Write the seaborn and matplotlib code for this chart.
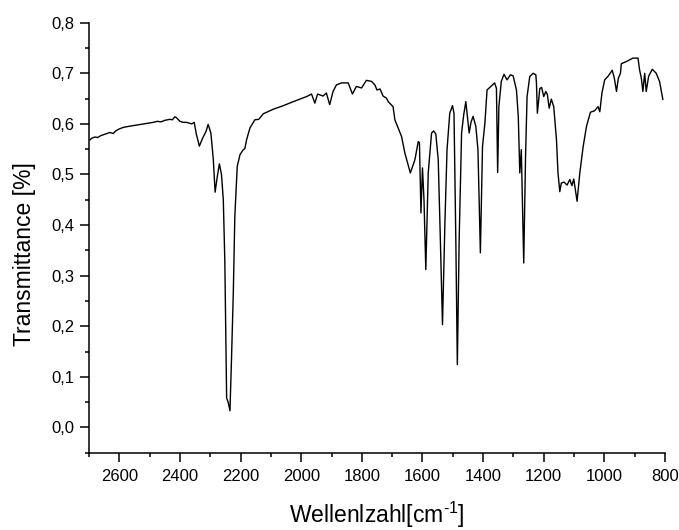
import matplotlib
matplotlib.use("Agg")
import matplotlib.pyplot as plt
from matplotlib.ticker import MultipleLocator, FuncFormatter
import seaborn as sns
import pandas as pd

# IR spectrum: wavenumber (cm^-1) and transmittance
wavenumber = [2698, 2690, 2680, 2672, 2660, 2645, 2631, 2620, 2612, 2600, 2587, 2570,
              2550, 2532, 2510, 2488, 2475, 2462, 2450, 2433, 2425, 2417, 2411, 2400,
              2390, 2378, 2361, 2353, 2346, 2336, 2325, 2314, 2307, 2298, 2290, 2284,
              2277, 2270, 2263, 2257, 2252, 2246, 2241, 2235, 2230, 2224, 2219, 2211,
              2202, 2191, 2186, 2180, 2169, 2153, 2140, 2125, 2092, 2059, 2026, 1982,
              1966, 1955, 1946, 1928, 1917, 1906, 1895, 1884, 1867, 1845, 1831, 1818,
              1801, 1785, 1768, 1757, 1750, 1740, 1730, 1719, 1713, 1697, 1691, 1669,
              1658, 1640, 1625, 1614, 1610, 1605, 1600, 1595, 1589, 1581, 1570, 1563,
              1556, 1548, 1541, 1534, 1526, 1519, 1510, 1501, 1496, 1490, 1485, 1479,
              1471, 1464, 1457, 1452, 1446, 1440, 1433, 1424, 1417, 1409, 1402, 1394,
              1387, 1373, 1362, 1356, 1352, 1348, 1340, 1331, 1321, 1310, 1301, 1290,
              1284, 1279, 1274, 1270, 1266, 1260, 1255, 1246, 1235, 1226, 1224, 1221,
              1213, 1207, 1200, 1193, 1188, 1182, 1175, 1167, 1158, 1153, 1147, 1142,
              1133, 1123, 1114, 1107, 1101, 1090, 1081, 1070, 1059, 1046, 1032, 1021,
              1015, 1008, 999, 988, 974, 967, 960, 954, 947, 944, 928, 906,
              889, 884, 878, 873, 867, 862, 854, 842, 829, 818, 807]

transmittance = [0.568, 0.572, 0.574, 0.573, 0.577, 0.580, 0.583, 0.581, 0.586, 0.590, 0.593, 0.595,
                 0.597, 0.599, 0.601, 0.603, 0.605, 0.604, 0.607, 0.609, 0.608, 0.614, 0.612, 0.605,
                 0.603, 0.603, 0.600, 0.603, 0.580, 0.556, 0.572, 0.585, 0.599, 0.582, 0.530, 0.465,
                 0.495, 0.521, 0.500, 0.450, 0.330, 0.058, 0.050, 0.033, 0.134, 0.266, 0.417, 0.516,
                 0.539, 0.549, 0.551, 0.569, 0.592, 0.608, 0.609, 0.620, 0.629, 0.636, 0.644, 0.654,
                 0.659, 0.641, 0.659, 0.655, 0.661, 0.638, 0.664, 0.677, 0.681, 0.681, 0.659, 0.674,
                 0.671, 0.686, 0.684, 0.677, 0.667, 0.669, 0.655, 0.651, 0.644, 0.634, 0.608, 0.575,
                 0.542, 0.503, 0.529, 0.565, 0.563, 0.424, 0.513, 0.450, 0.312, 0.503, 0.582, 0.586,
                 0.580, 0.529, 0.371, 0.203, 0.404, 0.549, 0.621, 0.636, 0.621, 0.371, 0.124, 0.371,
                 0.582, 0.618, 0.644, 0.615, 0.582, 0.603, 0.615, 0.595, 0.549, 0.345, 0.555, 0.602,
                 0.667, 0.675, 0.681, 0.670, 0.504, 0.634, 0.684, 0.698, 0.687, 0.697, 0.695, 0.667,
                 0.615, 0.503, 0.549, 0.440, 0.325, 0.536, 0.654, 0.694, 0.700, 0.697, 0.680, 0.621,
                 0.670, 0.672, 0.654, 0.664, 0.658, 0.631, 0.649, 0.634, 0.569, 0.503, 0.466, 0.483,
                 0.485, 0.479, 0.490, 0.478, 0.491, 0.447, 0.503, 0.555, 0.595, 0.623, 0.626, 0.634,
                 0.624, 0.661, 0.687, 0.694, 0.706, 0.690, 0.664, 0.690, 0.700, 0.719, 0.723, 0.730,
                 0.730, 0.707, 0.690, 0.664, 0.700, 0.664, 0.694, 0.708, 0.700, 0.684, 0.648]

x_ticks = [2600, 2400, 2200, 2000, 1800, 1600, 1400, 1200, 1000, 800]
y_ticks = [0.0, 0.1, 0.2, 0.3, 0.4, 0.5, 0.6, 0.7, 0.8]

sns.set_theme(style="ticks")
plt.rcParams["font.family"] = ["Liberation Sans", "DejaVu Sans"]
plt.rcParams["mathtext.fontset"] = "custom"
plt.rcParams["mathtext.rm"] = "Liberation Sans"
plt.rcParams["mathtext.it"] = "Liberation Sans:italic"
plt.rcParams["mathtext.bf"] = "Liberation Sans:bold"

df = pd.DataFrame({"wn": wavenumber, "T": transmittance})

fig = plt.figure(figsize=(6.79, 5.30), dpi=100)
ax = fig.add_axes([89 / 679, 1 - 452.7 / 530, 576 / 679, 430 / 530])

sns.lineplot(data=df, x="wn", y="T", color="black", linewidth=1.0, ax=ax,
             estimator=None, sort=False)

ax.set_xlim(2700, 800)
ax.set_ylim(-0.05, 0.8)
ax.set_xticks(x_ticks)
ax.set_yticks(y_ticks)
ax.xaxis.set_minor_locator(MultipleLocator(100))
ax.yaxis.set_minor_locator(MultipleLocator(0.05))
ax.xaxis.set_major_formatter(FuncFormatter(lambda v, p: f"{v:.0f}"))
ax.yaxis.set_major_formatter(FuncFormatter(lambda v, p: f"{v:.1f}".replace(".", ",")))

sns.despine(ax=ax, top=True, right=True)
for s in ("left", "bottom"):
    ax.spines[s].set_linewidth(1.1)
    ax.spines[s].set_color("black")

ax.tick_params(axis="both", which="major", direction="out", length=6.5, width=1.1,
               colors="black", labelsize=12, labelcolor="black")
ax.tick_params(axis="both", which="minor", direction="out", length=3.2, width=1.1,
               colors="black")
ax.tick_params(axis="x", which="major", pad=5.5)
ax.tick_params(axis="y", which="major", pad=4)

ax.set_xlabel(r"Wellenlzahl[cm$^{\text{-}1}$]", fontsize=16.5, color="black")
ax.set_ylabel("Transmittance [%]", fontsize=16.5, color="black")
ax.xaxis.set_label_coords(0.5, -0.1635)
ax.xaxis.label.set_verticalalignment("baseline")
ax.yaxis.set_label_coords(-0.092, 0.463)

fig.savefig("out.png", dpi=100, facecolor="white")
